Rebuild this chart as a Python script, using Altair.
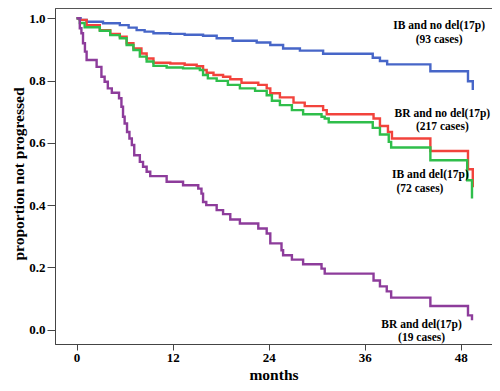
import altair as alt
import pandas as pd

# ---- data (months, proportion not progressed) ----
ib_nodel_t = [0, 0.5, 1.25, 3.3, 5.4, 6.5, 7.5, 8.5, 9.6, 11.7, 13.5, 15.8, 17.5, 19.5, 22.5,
              24.2, 25.8, 27.9, 30.8, 37.0, 37.9, 38.8, 44.2, 48.9, 49.5]
ib_nodel_s = [1.0, 0.995, 0.989, 0.984, 0.978, 0.97, 0.962, 0.957, 0.952, 0.95, 0.947, 0.944, 0.936,
              0.928, 0.922, 0.914, 0.903, 0.896, 0.886, 0.873, 0.863, 0.852, 0.83, 0.798, 0.77]

br_nodel_t = [0, 0.4, 1.25, 2.9, 4.2, 5.4, 6.25, 7.1, 8.1, 8.75, 9.6, 11.7, 13.5, 15.0, 15.8, 16.25,
              17.1, 18.3, 19.2, 20.6, 22.7, 23.75, 24.2, 25.4, 27.1, 28.5, 30.8, 31.25, 37.1, 37.9,
              38.9, 39.4, 44.2, 48.9, 49.5]
br_nodel_s = [1.0, 0.995, 0.978, 0.962, 0.95, 0.941, 0.92, 0.903, 0.887, 0.871, 0.857, 0.855, 0.851,
              0.846, 0.834, 0.825, 0.818, 0.812, 0.804, 0.793, 0.786, 0.775, 0.759, 0.746, 0.729,
              0.718, 0.705, 0.692, 0.678, 0.654, 0.635, 0.614, 0.574, 0.515, 0.457]

ib_del_t = [0, 0.4, 1.0, 2.9, 4.2, 5.4, 6.25, 7.1, 7.9, 8.75, 9.6, 11.25, 13.3, 15.4, 15.8, 16.4,
            17.5, 18.9, 20.4, 22.3, 23.75, 24.4, 25.4, 26.9, 28.3, 30.6, 31.0, 31.5, 37.0, 37.9,
            39.0, 39.3, 44.2, 48.8, 49.4]
ib_del_s = [1.0, 0.985, 0.971, 0.96, 0.946, 0.936, 0.914, 0.898, 0.877, 0.861, 0.847, 0.842, 0.839,
            0.834, 0.818, 0.807, 0.799, 0.786, 0.775, 0.767, 0.753, 0.735, 0.721, 0.705, 0.692,
            0.684, 0.678, 0.666, 0.648, 0.627, 0.603, 0.585, 0.544, 0.48, 0.421]

br_del_t = [0, 0.4, 0.6, 0.8, 1.04, 1.25, 2.5, 3.1, 3.5, 3.9, 4.4, 5.3, 5.6, 5.8, 6.0, 6.3, 6.6,
            6.9, 7.2, 7.9, 8.3, 8.75, 9.2, 11.25, 13.3, 15.2, 15.6, 15.8, 16.2, 17.5, 18.3, 19.2,
            20.4, 22.7, 23.75, 24.2, 25.6, 25.8, 26.9, 28.3, 30.6, 31.0, 37.1, 37.9, 38.75, 39.3,
            44.2, 48.9, 49.4]
br_del_s = [1.0, 0.968, 0.952, 0.92, 0.893, 0.866, 0.844, 0.812, 0.796, 0.775, 0.761, 0.743, 0.716,
            0.684, 0.662, 0.635, 0.614, 0.593, 0.56, 0.539, 0.523, 0.507, 0.493, 0.475, 0.464,
            0.453, 0.437, 0.41, 0.40, 0.384, 0.371, 0.354, 0.341, 0.325, 0.309, 0.277, 0.255,
            0.239, 0.225, 0.21, 0.196, 0.18, 0.158, 0.139, 0.123, 0.103, 0.076, 0.046, 0.03]

series_names = ["IB and no del(17p)", "BR and no del(17p)", "IB and del(17p)", "BR and del(17p)"]
series_colors = ["#4766C8", "#F2433C", "#2FBE4B", "#8D3C9B"]

label_lines = ["IB and no del(17p)", "(93 cases)",
               "BR and no del(17p)", "(217 cases)",
               "IB and del(17p)", "(72 cases)",
               "BR and del(17p)", "(19 cases)"]
label_x = [45.3, 45.3, 45.7, 45.7, 44.2, 42.9, 43.1, 43.1]
label_y = [0.974, 0.93, 0.694, 0.652, 0.498, 0.452, 0.014, -0.026]

x_ticks = [0, 12, 24, 36, 48]
y_ticks = [0.0, 0.2, 0.4, 0.6, 0.8, 1.0]

# ---- build table ----
rows = []
for name, ts, ss in zip(series_names,
                        [ib_nodel_t, br_nodel_t, ib_del_t, br_del_t],
                        [ib_nodel_s, br_nodel_s, ib_del_s, br_del_s]):
    for i, (t, s) in enumerate(zip(ts, ss)):
        rows.append({"series": name, "t": t, "s": s, "order": i})
df = pd.DataFrame(rows)
labels = pd.DataFrame({"text": label_lines, "x": label_x, "y": label_y})

FONT = "Liberation Serif"
xscale = alt.Scale(domain=[-2.7, 51.9], nice=False, zero=False)
yscale = alt.Scale(domain=[-0.046, 1.033], nice=False, zero=False)

lines = alt.Chart(df).mark_line(interpolate="step-after", strokeWidth=2.4).encode(
    x=alt.X("t:Q", scale=xscale,
            axis=alt.Axis(values=x_ticks, title="months", tickSize=6, labelPadding=1,
                          titleFontSize=15.5, titleY=35.5, titleBaseline="alphabetic")),
    y=alt.Y("s:Q", scale=yscale,
            axis=alt.Axis(values=y_ticks, format=".1f", title="proportion not progressed",
                          tickSize=8, labelPadding=2, titleFontSize=15.5,
                          titleX=-37, titleY=165.5, titleBaseline="middle")),
    color=alt.Color("series:N", scale=alt.Scale(domain=series_names, range=series_colors),
                    legend=None),
    order="order:Q",
)

texts = alt.Chart(labels).mark_text(font=FONT, fontWeight="bold", fontSize=11.5,
                                    align="center", baseline="middle", color="black").encode(
    x=alt.X("x:Q", scale=xscale),
    y=alt.Y("y:Q", scale=yscale),
    text="text:N",
)

chart = alt.layer(lines, texts).properties(
    width=437, height=336,
    autosize=alt.AutoSizeParams(type="none"),
    padding={"left": 47, "top": 0, "right": 0, "bottom": 39},
).configure_view(
    stroke="#555555", strokeWidth=1
).configure_axis(
    grid=False,
    domainColor="#444444", tickColor="#444444", domainWidth=1, tickWidth=1,
    labelFont=FONT, labelFontWeight="bold", labelFontSize=13, labelColor="black",
    titleFont=FONT, titleFontWeight="bold", titleColor="black",
)

chart.save("out.html", embed_options={"renderer": "svg", "actions": False})
